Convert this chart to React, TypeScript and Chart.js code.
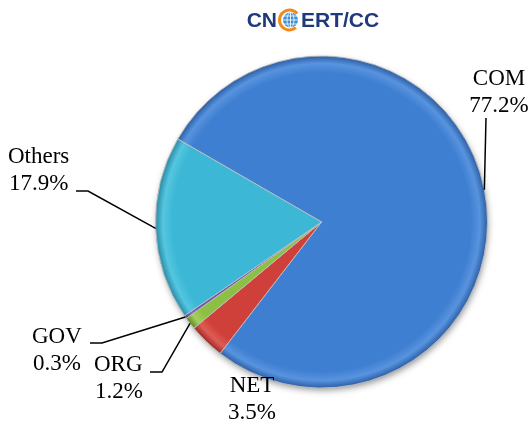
import React, { useEffect, useRef } from "react";
import { Chart, registerables } from "chart.js";

Chart.register(...registerables);

const categories = ["COM", "NET", "ORG", "GOV", "Others"];
const shares = [77.2, 3.5, 1.2, 0.3, 17.9];
const shareLabels = ["77.2%", "3.5%", "1.2%", "0.3%", "17.9%"];

const baseColors = ["#3f7fd2", "#d0403a", "#8cc043", "#6f56a6", "#3cb8d6"];
const lightColors = ["#5893de", "#de5d56", "#a2d05e", "#8570b8", "#55c6e0"];
const darkColors = ["#2c5fa6", "#9c2a26", "#5f8a26", "#4a3878", "#2a8aa6"];

// annotation layout: text anchor, alignment, leader polyline (ends on slice mid-angle)
const labelLayout = [
  { x: 499, y: 85, align: "center", lead: [[486, 118]] },
  { x: 252, y: 392, align: "center", lead: [] },
  { x: 94, y: 371, align: "left", lead: [[150, 372], [162, 372]] },
  { x: 32, y: 343, align: "left", lead: [[90, 343], [102, 343]] },
  { x: 8, y: 163, align: "left", lead: [[76, 191], [88, 191]] },
];

const RADIUS = 166;

function gradFor(ctx: any, i: number) {
  const chart = ctx.chart;
  const area = chart.chartArea;
  if (!area) return baseColors[i];
  const cx = (area.left + area.right) / 2;
  const cy = (area.top + area.bottom) / 2;
  const g = chart.ctx.createRadialGradient(cx, cy, 0, cx, cy, RADIUS);
  g.addColorStop(0, baseColors[i]);
  g.addColorStop(0.9, baseColors[i]);
  g.addColorStop(0.955, lightColors[i]);
  g.addColorStop(1, darkColors[i]);
  return g;
}

const shadowPlugin = {
  id: "pieShadow",
  beforeDatasetsDraw(chart: any) {
    const meta = chart.getDatasetMeta(0);
    const a = meta.data[0];
    if (!a) return;
    const ctx = chart.ctx;
    ctx.save();
    ctx.shadowColor = "rgba(0,0,0,0.45)";
    ctx.shadowBlur = 7;
    ctx.shadowOffsetX = 1;
    ctx.shadowOffsetY = 3;
    ctx.fillStyle = "#ffffff";
    ctx.beginPath();
    ctx.arc(a.x, a.y, a.outerRadius - 1, 0, Math.PI * 2);
    ctx.fill();
    ctx.restore();
  },
};

const labelPlugin = {
  id: "pieLabels",
  afterDraw(chart: any) {
    const ctx = chart.ctx;
    const meta = chart.getDatasetMeta(0);
    ctx.save();
    // leader lines
    ctx.strokeStyle = "#000000";
    ctx.lineWidth = 1.5;
    meta.data.forEach((arc: any, i: number) => {
      const L = labelLayout[i];
      if (!L.lead.length) return;
      const mid = (arc.startAngle + arc.endAngle) / 2;
      const px = arc.x + Math.cos(mid) * arc.outerRadius;
      const py = arc.y + Math.sin(mid) * arc.outerRadius;
      ctx.beginPath();
      ctx.moveTo(L.lead[0][0], L.lead[0][1]);
      for (let k = 1; k < L.lead.length; k++) ctx.lineTo(L.lead[k][0], L.lead[k][1]);
      ctx.lineTo(px, py);
      ctx.stroke();
    });
    // texts
    ctx.fillStyle = "#000000";
    ctx.font = "23px 'Liberation Serif', 'Times New Roman', serif";
    ctx.textBaseline = "alphabetic";
    categories.forEach((c, i) => {
      const L = labelLayout[i];
      ctx.textAlign = L.align;
      ctx.fillText(c, L.x, L.y);
      ctx.fillText(shareLabels[i], L.x + (L.align === "left" ? 1 : 0), L.y + 27);
    });

    // logo
    const navy = "#1e3a78";
    ctx.font = "bold 21px 'Liberation Sans', Arial, sans-serif";
    ctx.fillStyle = navy;
    ctx.textAlign = "right";
    ctx.fillText("CN", 277, 27);
    ctx.textAlign = "left";
    ctx.fillText("ERT/CC", 301, 27);
    const gx = 289.5, gy = 20;
    ctx.fillStyle = "#3f8fd6";
    ctx.beginPath();
    ctx.arc(gx + 1, gy, 7.5, 0, Math.PI * 2);
    ctx.fill();
    ctx.strokeStyle = "#ffffff";
    ctx.lineWidth = 0.8;
    ctx.beginPath();
    ctx.ellipse(gx + 1, gy, 3.5, 7.5, 0, 0, Math.PI * 2);
    ctx.moveTo(gx + 1, gy - 7.5);
    ctx.lineTo(gx + 1, gy + 7.5);
    ctx.moveTo(gx - 6.5, gy);
    ctx.lineTo(gx + 8.5, gy);
    ctx.moveTo(gx - 5.5, gy - 4);
    ctx.lineTo(gx + 7.5, gy - 4);
    ctx.moveTo(gx - 5.5, gy + 4);
    ctx.lineTo(gx + 7.5, gy + 4);
    ctx.stroke();
    ctx.strokeStyle = "#f28a1a";
    ctx.lineWidth = 3;
    ctx.beginPath();
    ctx.arc(gx, gy, 10, Math.PI * 0.28, Math.PI * 1.78);
    ctx.stroke();
    ctx.restore();
  },
};

export default function App() {
  const ref = useRef<HTMLCanvasElement | null>(null);
  useEffect(() => {
    if (!ref.current) return;
    const chart = new Chart(ref.current, {
      type: "pie",
      data: {
        labels: categories,
        datasets: [
          {
            data: shares,
            backgroundColor: (ctx: any) => gradFor(ctx, ctx.dataIndex),
            borderColor: "rgba(190,190,190,0.9)",
            borderWidth: 1,
            hoverOffset: 0,
          },
        ],
      },
      options: {
        animation: false,
        responsive: false,
        rotation: -60,
        radius: RADIUS,
        layout: { padding: { left: 112, right: 0, top: 19, bottom: 0 } },
        plugins: {
          legend: { display: false },
          tooltip: { enabled: false },
        },
      } as any,
      plugins: [shadowPlugin, labelPlugin],
    });
    return () => chart.destroy();
  }, []);
  return (
    <div style={{ position: "fixed", left: 0, top: 0, width: 531, height: 425, background: "#ffffff" }}>
      <canvas ref={ref} width={531} height={425} />
    </div>
  );
}
